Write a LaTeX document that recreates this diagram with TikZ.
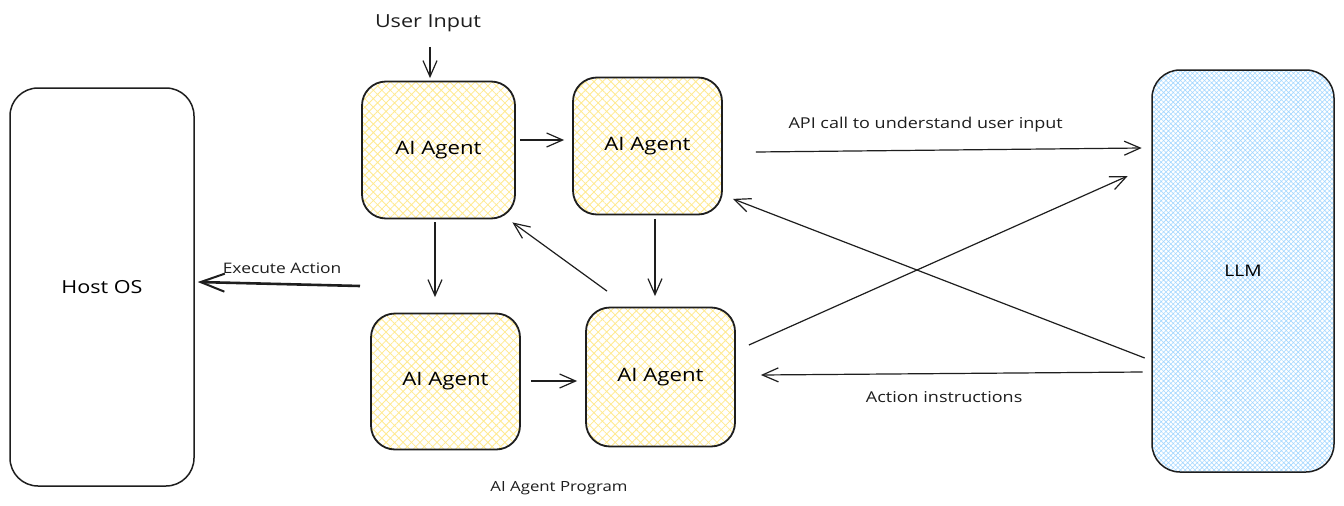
\documentclass[tikz,border=0pt]{standalone}
\usepackage{fontspec}
\setmainfont[FakeStretch=1.2]{Open Sans}
\usetikzlibrary{arrows.meta,patterns.meta,calc}
\definecolor{ink}{HTML}{1E1E1E}
\definecolor{yhatch}{HTML}{FFEA90}
\definecolor{bhatch}{HTML}{A5D8FF}
\tikzset{
  agent/.style={draw=ink, line width=1.8pt, rounded corners=24pt, inner sep=0pt,
    pattern={Hatch[angle=45,distance=6pt,line width=0.8pt]}, pattern color=yhatch,
    font=\fontsize{18.5}{22}\selectfont},
  bigbox/.style={draw=ink, line width=1.5pt, rounded corners=28pt, inner sep=0pt,
    font=\fontsize{18}{22}\selectfont},
  conn/.style={draw=ink, line width=1.2pt, -{Straight Barb[length=16pt,width=14pt,line width=1.2pt]}},
  lbl/.style={text=ink, inner sep=0pt},
}
\begin{document}
\begin{tikzpicture}[x=1pt,y=-1pt]
\useasboundingbox (0,0) rectangle (1344,506);
\fill[white] (0,0) rectangle (1344,506);

\node[bigbox, minimum width=184pt, minimum height=398pt] (host) at (102,287) {Host OS};
\node[bigbox, minimum width=182pt, minimum height=402pt, font=\fontsize{16}{20}\selectfont,
  pattern={Hatch[angle=45,distance=3.4pt,line width=0.6pt]}, pattern color=bhatch] (llm) at (1243,271) {LLM};

\node[agent, minimum width=153pt, minimum height=137pt] (a1) at (438.5,150) {AI Agent};
\node[agent, minimum width=149pt, minimum height=137pt] (a2) at (647.5,146) {AI Agent};
\node[agent, minimum width=149pt, minimum height=136pt] (a3) at (445.5,381.5) {AI Agent};
\node[agent, minimum width=149pt, minimum height=139pt] (a4) at (660.5,377) {AI Agent};

\node[lbl, font=\fontsize{18}{22}\selectfont] (ui) at (428,23) {User Input};
\node[lbl, font=\fontsize{14}{17}\selectfont] (prog) at (559,488) {AI Agent Program};
\coordinate (exec) at (360,286);

\draw[conn] ($(ui.south)+(2,15)$) -- ($(a1.north)+(-8.5,-3)$);
\draw[conn] ($(a1.east)+(5,-10)$) -- ($(a2.west)+(-8,-6)$);
\draw[conn] ($(a1.south)+(-3.5,3.5)$) -- ($(a3.north)+(-10.5,-15.5)$);
\draw[conn] ($(a2.south)+(7.5,3.5)$) -- ($(a4.north)+(-5.5,-10.5)$);
\draw[conn] ($(a3.east)+(10,-0.5)$) -- ($(a4.west)+(-8,4)$);
\draw[conn] ($(a4.north)+(-53.5,-15.5)$) -- ($(a1.south east)+(-3,3.5)$);

\draw[conn, line width=2.6pt, -{Straight Barb[length=24pt,width=18pt,line width=2pt]}] (exec) -- node[lbl, above=9pt, pos=0.48, font=\fontsize{14.5}{17}\selectfont] {Execute Action} ($(host.east)+(3,-5)$);

\draw[conn] ($(a2.east)+(33,6)$) -- node[lbl, above=18pt, pos=0.44, font=\fontsize{15}{18}\selectfont] {API call to understand user input} ($(llm.west)+(-10,-123)$);
\draw[conn] ($(a4.east)+(13,-32)$) -- ($(llm.west)+(-24,-95)$);
\draw[conn] ($(llm.west)+(-7,87)$) -- ($(a2.south east)+(10,-16.5)$);
\draw[conn] ($(llm.west)+(-9,101)$) -- node[lbl, below=17pt, pos=0.52, font=\fontsize{15}{18}\selectfont] {Action instructions} ($(a4.east)+(25,-2)$);
\end{tikzpicture}
\end{document}
